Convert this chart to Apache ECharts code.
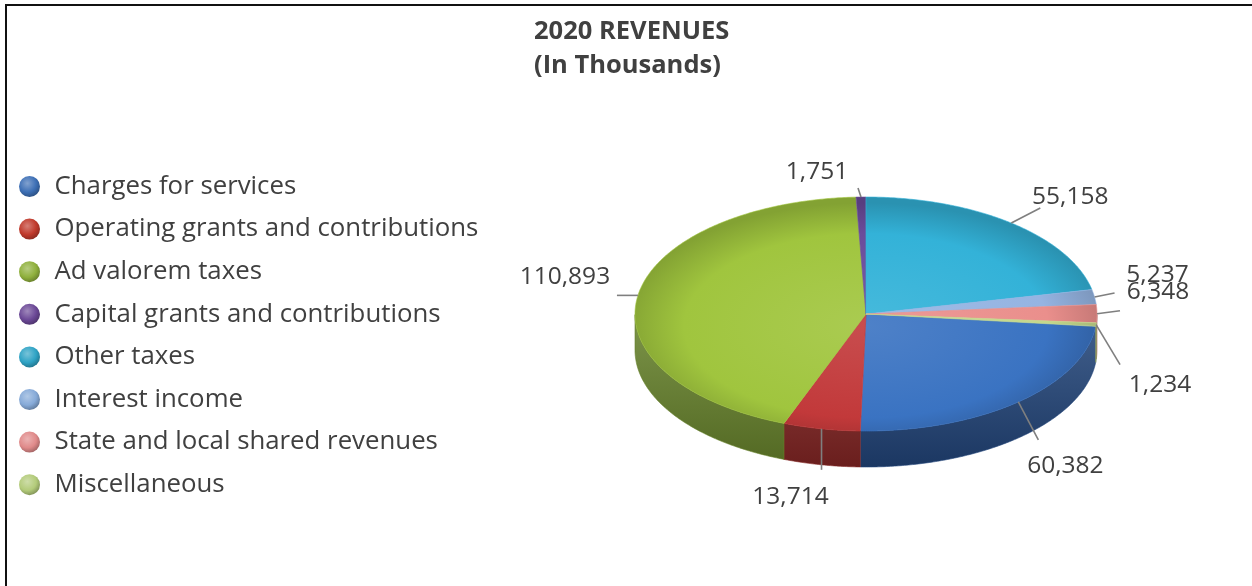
<!DOCTYPE html>
<html>
<head>
<meta charset="utf-8">
<script src="https://cdn.jsdelivr.net/npm/echarts@6/dist/echarts.min.js"></script>
<style>
  html, body { margin: 0; padding: 0; background: #ffffff; }
  #chart { width: 1252px; height: 586px; }
</style>
</head>
<body>
<div id="chart"></div>
<script>
// Revenue sources (in thousands), in drawing order, clockwise
const categories = [
  'Charges for services',
  'Operating grants and contributions',
  'Ad valorem taxes',
  'Capital grants and contributions',
  'Other taxes',
  'Interest income',
  'State and local shared revenues',
  'Miscellaneous'
];
const revenues = [60382, 13714, 110893, 1751, 55158, 5237, 6348, 1234];

// Styling
const topColors  = ['#3a73c2', '#c2393a', '#a0c53e', '#6b4c9b', '#33b2d8', '#95b4e2', '#ea8f8c', '#c4d88c'];
const wallColors = ['#22457a', '#852624', '#66822a', '#45306a', '#1e7391', '#5f7da9', '#a65c58', '#8a9c5a'];
const iconColors = ['#3d6fb5', '#c0392b', '#8fb03c', '#6b4896', '#2fa3c5', '#86aad8', '#e08a8a', '#b3cb7a'];

// Leader-line end and label centre, as offsets from each slice's rim point
const labelLayout = [
  [20, 38, 47, 64],
  [0, 41, -31, 68],
  [-21, 0, -73, -18],
  [-3, -9, -44, -25],
  [29, -15, 59, -26],
  [20, -4, 63, -22],
  [23, -3, 61, -22],
  [24, 40, 64, 60]
];

const PIE = { cx: 866, cy: 314, rx: 231, ry: 117, depth: 36, startAngle: -6.07 };
const FONT = '"Open Sans"';
const TEXT_COLOR = '#404040';

const total = revenues.reduce((a, b) => a + b, 0);
const cumStart = [];
revenues.reduce((acc, v, i) => { cumStart[i] = acc; return acc + v; }, 0);

function shade(hex, f) {
  const n = parseInt(hex.slice(1), 16);
  let r = (n >> 16) & 255, g = (n >> 8) & 255, b = n & 255;
  const m = c => Math.max(0, Math.min(255, Math.round(f >= 0 ? c + (255 - c) * f : c * (1 + f))));
  return 'rgb(' + m(r) + ',' + m(g) + ',' + m(b) + ')';
}

function makeRenderer(i) {
  return function (params, api) {
    const a0 = api.value(1), a1 = api.value(2);
    const c = api.coord([0, a0]);
    const cx = c[0], cy = c[1];
    const k = PIE.ry / PIE.rx;
    const steps = Math.max(2, Math.ceil((a1 - a0) / total * 720));
    const rim = [];
    for (let s = 0; s <= steps; s++) {
      rim.push(api.coord([1, a0 + (a1 - a0) * s / steps]));
    }
    const sq = p => [p[0], cy + (p[1] - cy) * k];
    const children = [];

    // side wall for the part of the rim facing the viewer
    let seg = [];
    const segments = [];
    rim.forEach(p => {
      if (p[1] >= cy - 1e-6) { seg.push(p); }
      else if (seg.length) { segments.push(seg); seg = []; }
    });
    if (seg.length) segments.push(seg);
    segments.forEach(sg => {
      if (sg.length < 2) return;
      const top = sg.map(sq);
      const bottom = top.slice().reverse().map(p => [p[0], p[1] + PIE.depth]);
      children.push({
        type: 'polygon',
        shape: { points: top.concat(bottom) },
        style: {
          fill: {
            type: 'linear', x: 0, y: cy, x2: 0, y2: cy + PIE.ry + PIE.depth, global: true,
            colorStops: [
              { offset: 0, color: shade(wallColors[i], 0.15) },
              { offset: 1, color: shade(wallColors[i], -0.2) }
            ]
          },
          stroke: wallColors[i], lineWidth: 0.6
        }
      });
    });

    // top face, drawn round then flattened into an ellipse
    children.push({
      type: 'group',
      originX: cx, originY: cy, scaleY: k,
      children: [{
        type: 'polygon',
        shape: { points: [[cx, cy]].concat(rim) },
        style: {
          fill: {
            type: 'radial', x: cx, y: cy + PIE.rx * 0.1, r: PIE.rx * 1.05, global: true,
            colorStops: [
              { offset: 0, color: shade(topColors[i], 0.1) },
              { offset: 0.75, color: topColors[i] },
              { offset: 1, color: shade(topColors[i], -0.18) }
            ]
          },
          stroke: topColors[i], lineWidth: 0.8
        }
      }]
    });

    // value label with leader line
    const mid = sq(api.coord([1, (a0 + a1) / 2]));
    const L = labelLayout[i];
    children.push({
      type: 'line', z2: 90,
      shape: { x1: mid[0], y1: mid[1], x2: mid[0] + L[0], y2: mid[1] + L[1] },
      style: { stroke: '#7f7f7f', lineWidth: 1.6 }
    });
    children.push({
      type: 'text', z2: 100,
      x: mid[0] + L[2], y: mid[1] + L[3],
      style: {
        text: revenues[i].toLocaleString('en-US'),
        fill: TEXT_COLOR, font: '24.5px ' + FONT,
        align: 'center', verticalAlign: 'middle'
      }
    });
    return { type: 'group', children: children };
  };
}

const series = categories.map((name, i) => ({
  type: 'custom',
  name: name,
  coordinateSystem: 'polar',
  encode: { radius: 0, angle: [1, 2] },
  itemStyle: {
    color: {
      type: 'radial', x: 0.4, y: 0.35, r: 0.7,
      colorStops: [
        { offset: 0, color: shade(iconColors[i], 0.35) },
        { offset: 0.6, color: iconColors[i] },
        { offset: 1, color: shade(iconColors[i], -0.3) }
      ]
    }
  },
  renderItem: makeRenderer(i),
  data: [[1, cumStart[i], cumStart[i] + revenues[i]]],
  silent: true
}));

const chart = echarts.init(document.getElementById('chart'), null, { renderer: 'canvas' });
chart.setOption({
  backgroundColor: '#ffffff',
  animation: false,
  title: {
    text: '2020 REVENUES\n(In Thousands)',
    left: 529,
    top: 10,
    padding: 5,
    textAlign: 'left',
    textStyle: { fontFamily: FONT, fontWeight: 'bold', fontSize: 25.5, lineHeight: 34, color: TEXT_COLOR, align: 'center' }
  },
  legend: {
    orient: 'vertical',
    left: 14,
    top: 168,
    icon: 'circle',
    itemWidth: 40,
    itemHeight: 21,
    itemGap: 15.6,
    data: categories,
    textStyle: { fontFamily: FONT, fontSize: 25.8, lineHeight: 27, color: TEXT_COLOR }
  },
  polar: { center: [PIE.cx, PIE.cy], radius: PIE.rx },
  angleAxis: {
    type: 'value', min: 0, max: total, startAngle: PIE.startAngle, clockwise: true,
    show: false, axisLine: { show: false }, axisTick: { show: false },
    axisLabel: { show: false }, splitLine: { show: false }
  },
  radiusAxis: {
    type: 'value', min: 0, max: 1,
    show: false, axisLine: { show: false }, axisTick: { show: false },
    axisLabel: { show: false }, splitLine: { show: false }
  },
  graphic: [{
    type: 'rect', silent: true,
    shape: { x: 6, y: 5, width: 1400, height: 800 },
    style: { fill: 'none', stroke: '#111111', lineWidth: 2 }
  }],
  series: series
});
</script>
</body>
</html>
